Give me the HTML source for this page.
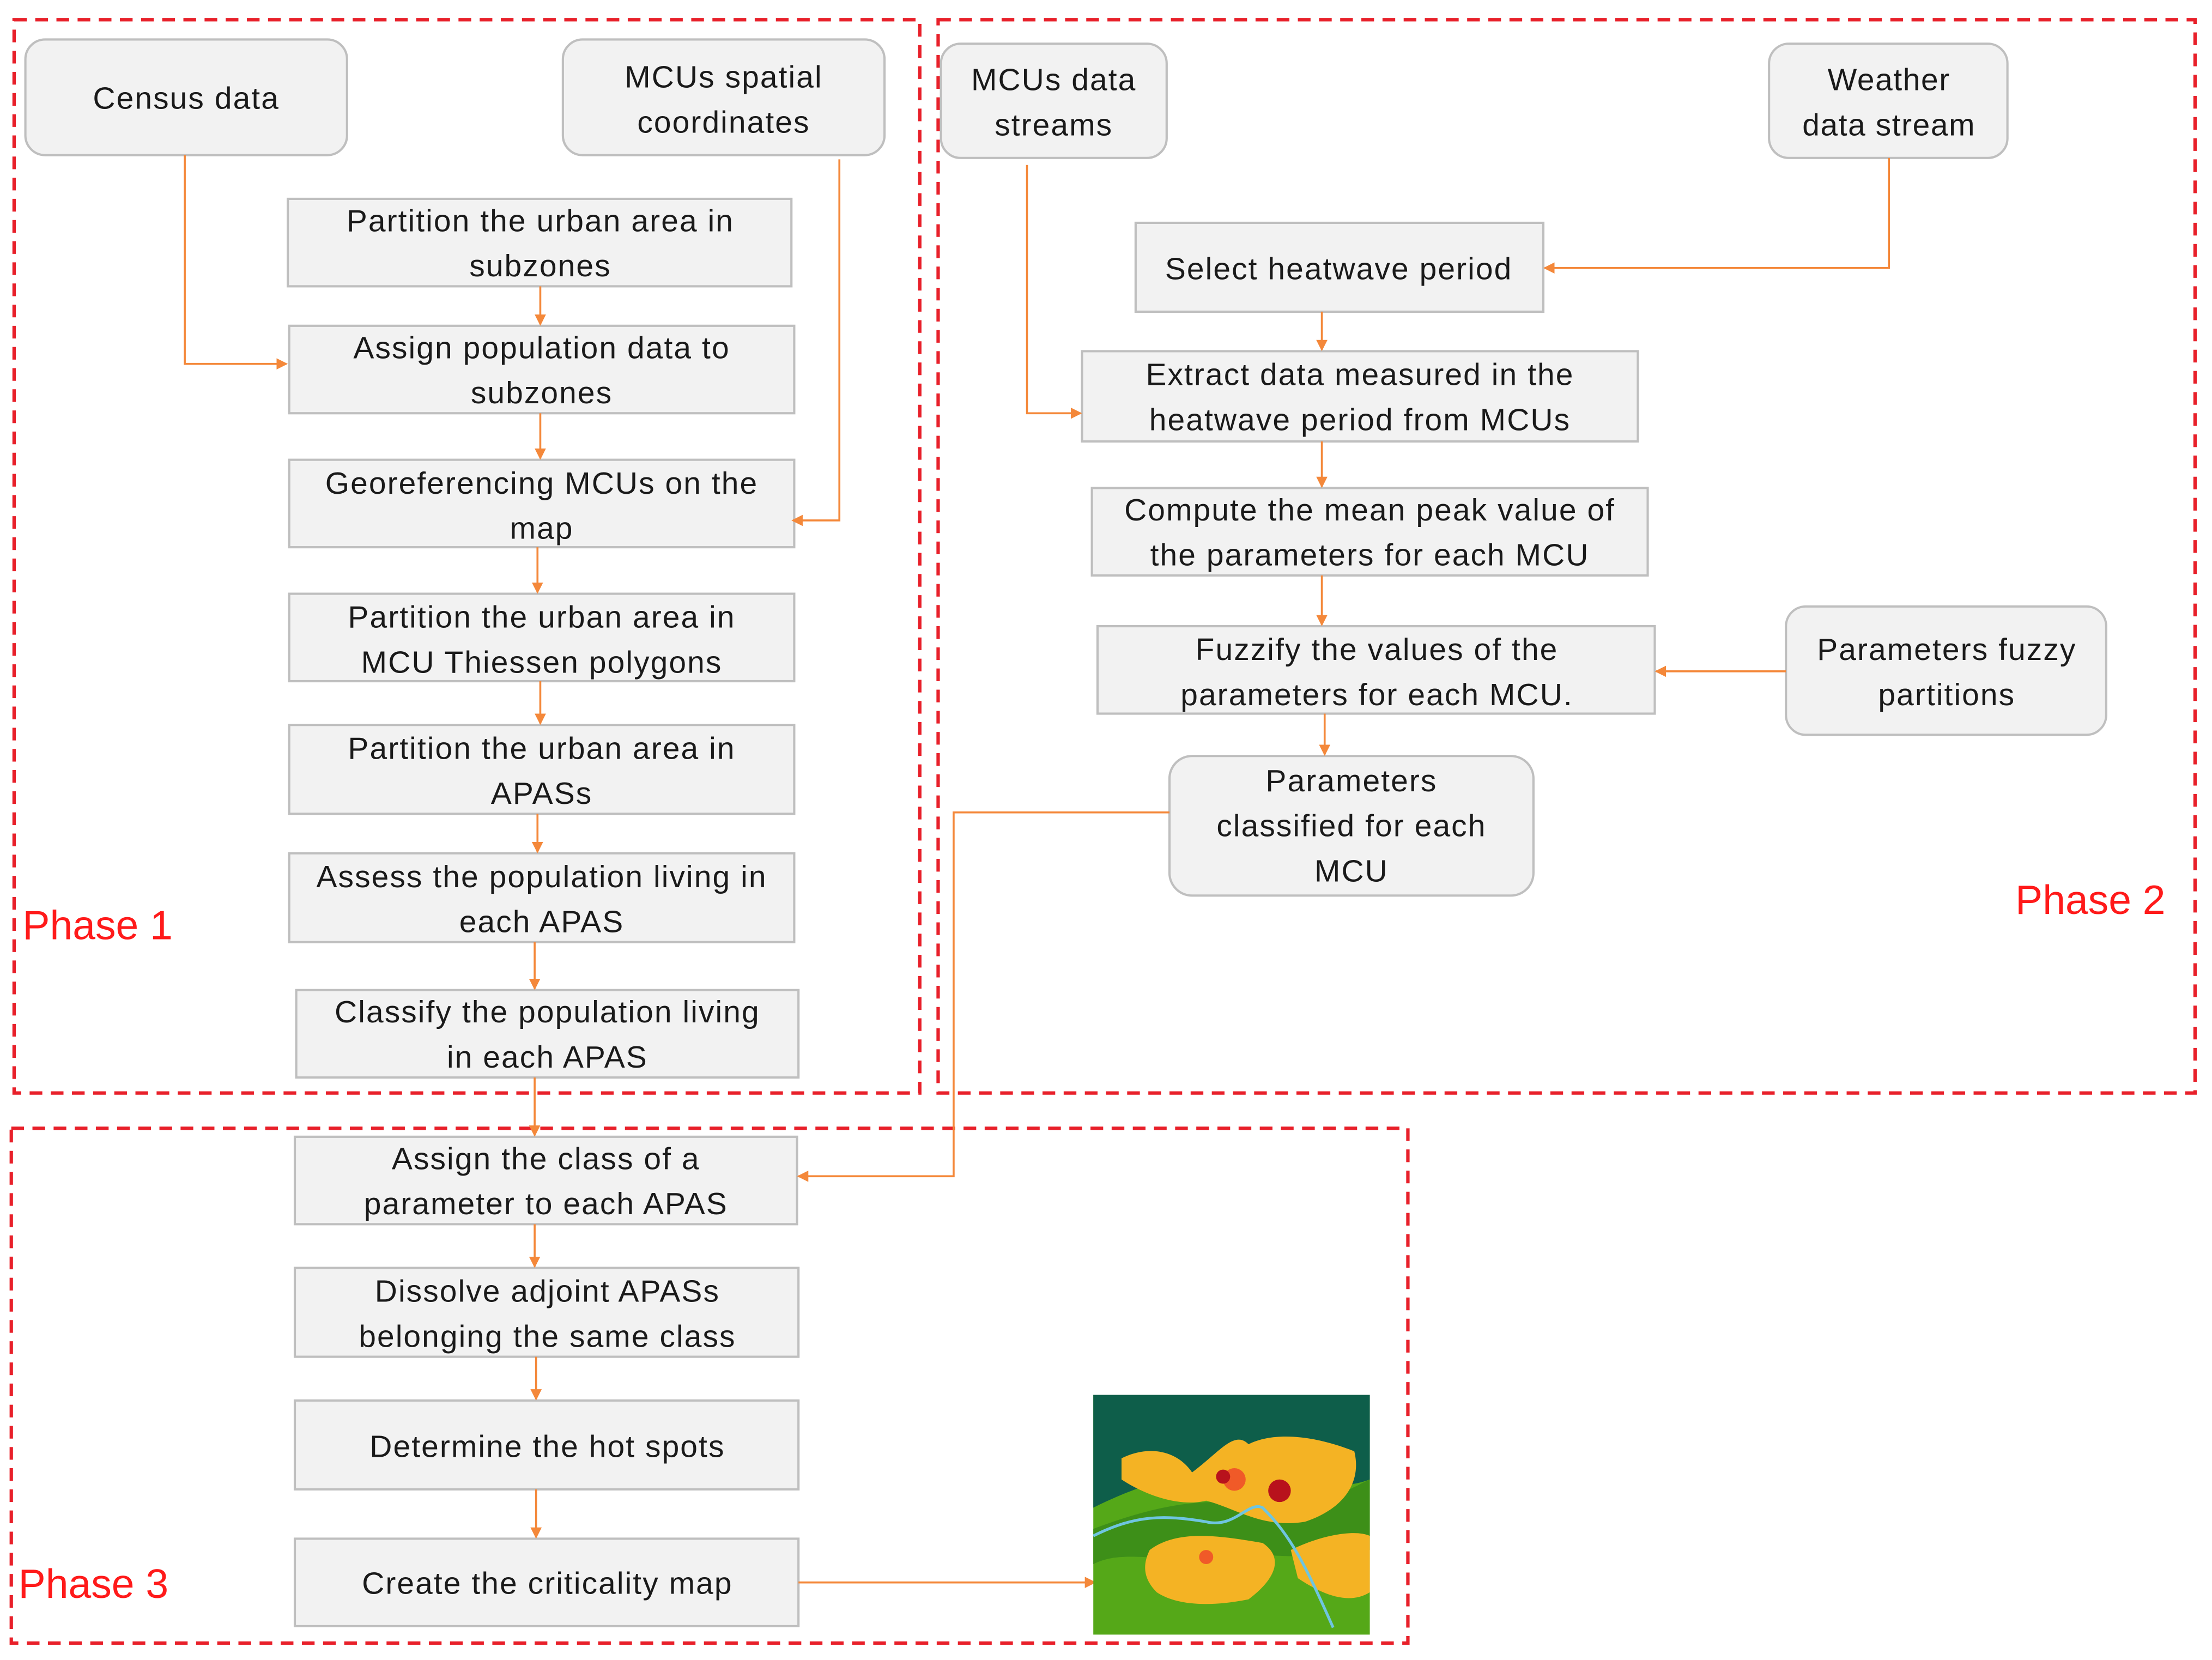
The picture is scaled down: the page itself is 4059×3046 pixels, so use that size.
<!DOCTYPE html>
<html><head><meta charset="utf-8"><style>
html,body{margin:0;padding:0;background:#fff;}
svg{display:block;}
text{font-family:"Liberation Sans",sans-serif;}
</style></head><body>
<svg width="4059" height="3046" viewBox="0 0 1568 1177" preserveAspectRatio="none" xmlns="http://www.w3.org/2000/svg">
<defs>
<marker id="a" markerWidth="8" markerHeight="8" refX="7" refY="4" orient="auto" markerUnits="userSpaceOnUse"><path d="M0,0 L8,4 L0,8 z" fill="#f4883a"/></marker>
</defs>
<g fill="none" stroke="#e8202a" stroke-width="2.4" stroke-dasharray="9,6">
<rect x="10" y="14" width="642" height="761"/>
<rect x="665" y="14" width="891" height="761"/>
<rect x="8" y="800" width="990" height="365"/>
</g>
<g fill="#f2f2f2" stroke="#bfbfbf" stroke-width="1.6">
<rect x="18" y="28" width="228" height="82" rx="14"/>
<rect x="399" y="28" width="228" height="82" rx="14"/>
<rect x="667" y="31" width="160" height="81" rx="14"/>
<rect x="1254" y="31" width="169" height="81" rx="14"/>
<rect x="1266" y="430" width="227" height="91" rx="14"/>
<rect x="829" y="536" width="258" height="99" rx="16"/>
<rect x="204" y="141" width="357" height="62"/>
<rect x="205" y="231" width="358" height="62"/>
<rect x="205" y="326" width="358" height="62"/>
<rect x="205" y="421" width="358" height="62"/>
<rect x="205" y="514" width="358" height="63"/>
<rect x="205" y="605" width="358" height="63"/>
<rect x="210" y="702" width="356" height="62"/>
<rect x="209" y="806" width="356" height="62"/>
<rect x="209" y="899" width="357" height="63"/>
<rect x="209" y="993" width="357" height="63"/>
<rect x="209" y="1091" width="357" height="62"/>
<rect x="805" y="158" width="289" height="63"/>
<rect x="767" y="249" width="394" height="64"/>
<rect x="774" y="346" width="394" height="62"/>
<rect x="778" y="444" width="395" height="62"/>
</g>
<g stroke="#f4883a" stroke-width="1.4" fill="none" marker-end="url(#a)">
<path d="M131,110 V258 H203"/>
<path d="M595,113 V369 H562"/>
<path d="M383,203 V230"/>
<path d="M383,293 V325"/>
<path d="M381,388 V420"/>
<path d="M383,483 V513"/>
<path d="M381,577 V604"/>
<path d="M379,668 V701"/>
<path d="M379,764 V805"/>
<path d="M379,868 V898"/>
<path d="M380,962 V992"/>
<path d="M380,1056 V1090"/>
<path d="M566,1122 H776"/>
<path d="M1339,112 V190 H1095"/>
<path d="M728,117 V293 H766"/>
<path d="M937,221 V248"/>
<path d="M937,313 V345"/>
<path d="M937,408 V443"/>
<path d="M1266,476 H1174"/>
<path d="M939,506 V535"/>
<path d="M829,576 H676 V834 H566"/>
</g>
<g font-size="22" fill="#1a1a1a" text-anchor="middle">
<text x="1339" y="64" letter-spacing="0.6">Weather</text><text x="1339" y="96" letter-spacing="0.6">data stream</text>
</g>
<g font-size="22" fill="#1a1a1a" text-anchor="middle" letter-spacing="0.8">
<text x="132" y="77">Census data</text>
<text x="513" y="62">MCUs  spatial</text><text x="513" y="94">coordinates</text>
<text x="747" y="64">MCUs data</text><text x="747" y="96">streams</text>
<text x="1380" y="468">Parameters fuzzy</text><text x="1380" y="500">partitions</text>
<text x="958" y="561">Parameters</text><text x="958" y="593">classified for each</text><text x="958" y="625">MCU</text>
<text x="383" y="164">Partition the urban area in</text><text x="383" y="196">subzones</text>
<text x="384" y="254">Assign population data to</text><text x="384" y="286">subzones</text>
<text x="384" y="350">Georeferencing  MCUs on the</text><text x="384" y="382">map</text>
<text x="384" y="445">Partition the urban area in</text><text x="384" y="477">MCU Thiessen polygons</text>
<text x="384" y="538">Partition the urban area in</text><text x="384" y="570">APASs</text>
<text x="384" y="629">Assess the population living in</text><text x="384" y="661">each APAS</text>
<text x="388" y="725">Classify the population living</text><text x="388" y="757">in each APAS</text>
<text x="387" y="829">Assign the class of a</text><text x="387" y="861">parameter to each APAS</text>
<text x="388" y="923">Dissolve adjoint APASs</text><text x="388" y="955">belonging the same class</text>
<text x="388" y="1033">Determine the hot spots</text>
<text x="388" y="1130">Create the criticality map</text>
<text x="949" y="198">Select heatwave period</text>
<text x="964" y="273">Extract data measured in  the</text><text x="964" y="305">heatwave period from MCUs</text>
<text x="971" y="369">Compute the mean peak value of</text><text x="971" y="401">the parameters for each MCU</text>
<text x="976" y="468">Fuzzify  the values of the</text><text x="976" y="500">parameters for each MCU.</text>
</g>
<g font-size="29" fill="#ff1a1a">
<text x="16" y="666">Phase 1</text>
<text x="1535" y="648" text-anchor="end">Phase 2</text>
<text x="13" y="1133">Phase 3</text>
</g>
<g transform="translate(775,989)">
<rect width="196" height="170" fill="#55a818"/>
<path d="M0,0 H196 V60 C170,70 140,60 110,55 C80,50 40,60 0,80 Z" fill="#0e5e4a"/>
<path d="M0,95 C40,80 80,70 120,80 C150,85 175,70 196,60 V110 C160,120 120,110 80,115 C40,118 20,110 0,120 Z" fill="#3d8f18"/>
<path d="M20,45 C40,35 60,40 70,55 C90,40 100,25 110,35 C130,25 160,30 185,40 C190,60 180,80 150,90 C120,95 100,80 80,75 C60,80 35,70 20,60 Z" fill="#f4b324"/>
<path d="M40,110 C60,95 90,100 120,105 C135,115 130,130 110,145 C85,150 60,150 45,140 C35,130 35,120 40,110 Z" fill="#f4b324"/>
<path d="M140,110 C160,100 185,95 196,100 V140 C180,150 160,140 145,130 Z" fill="#f4b324"/>
<circle cx="100" cy="60" r="8" fill="#f05a28"/>
<circle cx="92" cy="58" r="5" fill="#b8121c"/>
<circle cx="132" cy="68" r="8" fill="#b8121c"/>
<circle cx="80" cy="115" r="5" fill="#f05a28"/>
<path d="M0,100 C30,85 50,85 80,90 C100,95 110,75 120,80 C140,100 150,120 170,165" stroke="#6fc5e0" stroke-width="2" fill="none"/>
</g>
</svg>
</body></html>
